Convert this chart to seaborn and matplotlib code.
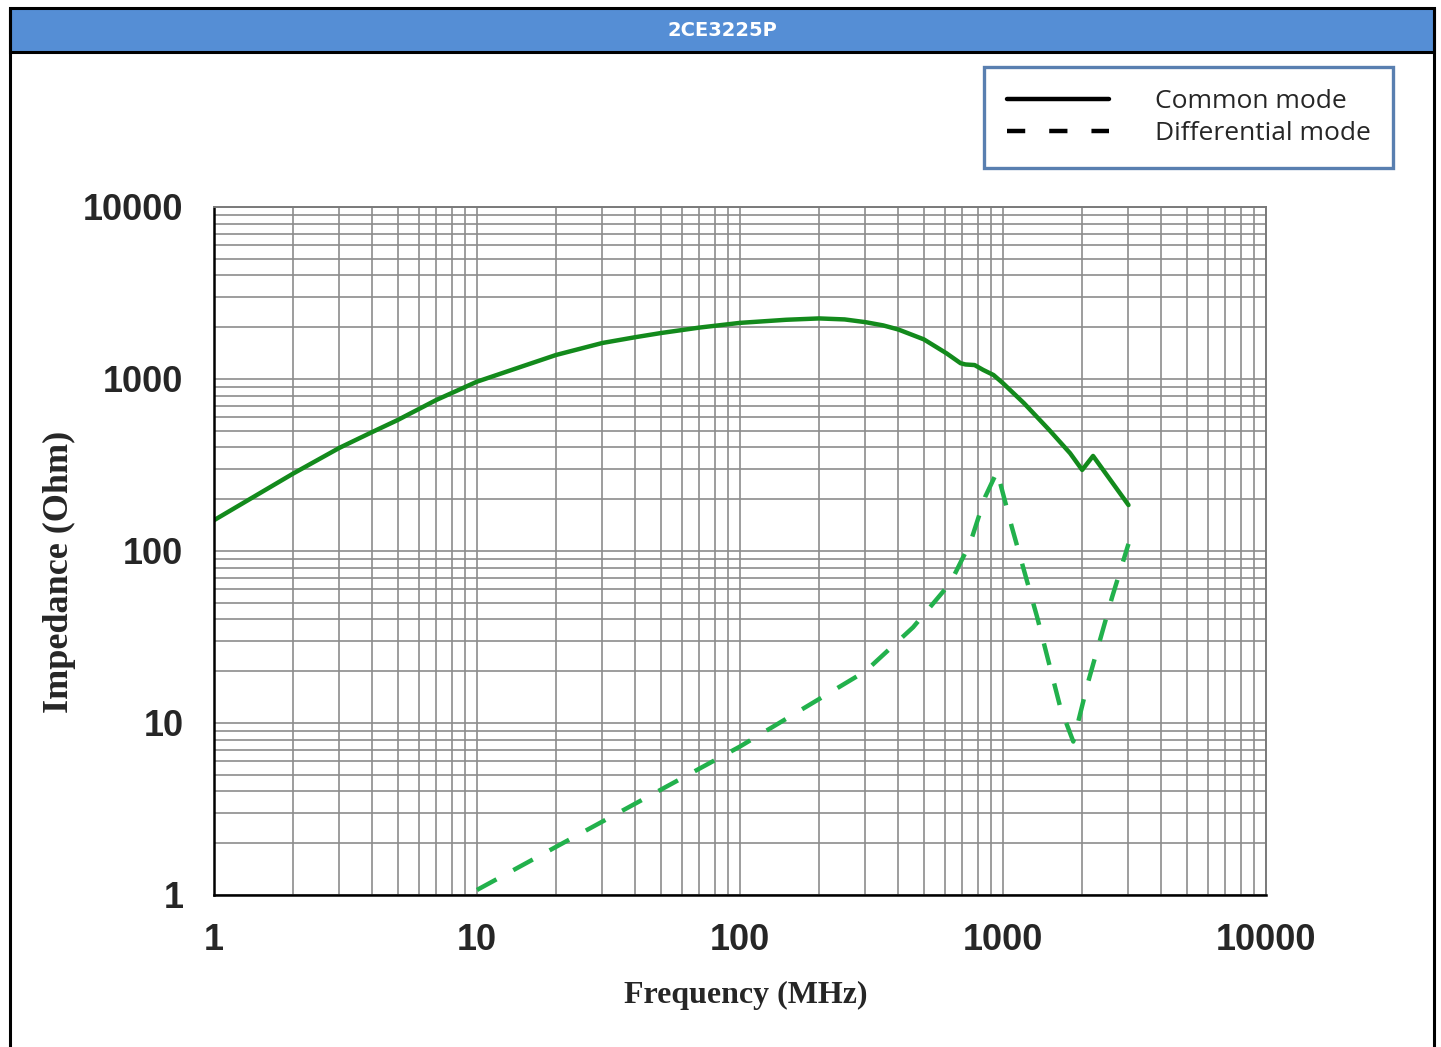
import numpy as np
import pandas as pd
import seaborn as sns
import matplotlib.pyplot as plt
from matplotlib.lines import Line2D
from matplotlib.patches import Rectangle
from matplotlib.ticker import LogLocator, NullFormatter

# Common mode impedance curve
cm_freq = [1, 2, 3, 4, 5, 7, 10, 15, 20, 30, 40, 50, 70, 100, 150, 200, 250, 300, 350,
           400, 500, 610, 690, 720, 780, 840, 920, 1000, 1200, 1500, 1800, 2000, 2200, 3000]
cm_imp = [151, 282, 398, 492, 578, 755, 965, 1190, 1380, 1620, 1750, 1850, 1990, 2120,
          2210, 2250, 2220, 2140, 2050, 1940, 1700, 1410, 1235, 1215, 1205, 1130, 1055,
          945, 725, 505, 370, 296, 357, 185]

# Differential mode impedance curve
dm_freq = [10, 100, 300, 455, 630, 750, 855, 950, 1080, 1350, 1650, 1850, 2100, 2600, 3000]
dm_imp = [1.07, 7.3, 20, 36, 65, 111, 206, 290, 138, 41, 12.4, 7.8, 17, 54, 110]

tick_vals = [1, 10, 100, 1000, 10000]
tick_labels = ['1', '10', '100', '1000', '10000']

cm = pd.DataFrame({'Frequency': cm_freq, 'Impedance': cm_imp})
dm = pd.DataFrame({'Frequency': dm_freq, 'Impedance': dm_imp})

sns.set_style('white')
plt.rcParams['font.family'] = ['Liberation Sans', 'DejaVu Sans']

W, H = 1441, 1047
fig = plt.figure(figsize=(W / 100, H / 100), dpi=100)
ax = fig.add_axes([214 / W, 1 - 895 / H, (1266 - 214) / W, (895 - 207) / H])

sns.lineplot(data=cm, x='Frequency', y='Impedance', ax=ax, sort=False,
             color='#138a1c', linewidth=3.2, estimator=None,
             solid_capstyle='round', solid_joinstyle='round')
sns.lineplot(data=dm, x='Frequency', y='Impedance', ax=ax, sort=False,
             color='#22b14c', linewidth=3.2, estimator=None,
             linestyle=(0, (5, 4.3)))

ax.set_xscale('log')
ax.set_yscale('log')
ax.set_xlim(1, 10000)
ax.set_ylim(1, 10000)

ax.set_xticks(tick_vals)
ax.set_xticklabels(tick_labels)
ax.set_yticks(tick_vals)
ax.set_yticklabels(tick_labels)
ax.xaxis.set_minor_locator(LogLocator(base=10, subs=np.arange(2, 10)))
ax.yaxis.set_minor_locator(LogLocator(base=10, subs=np.arange(2, 10)))
ax.xaxis.set_minor_formatter(NullFormatter())
ax.yaxis.set_minor_formatter(NullFormatter())

ax.grid(True, which='both', color='#8c8c8c', linewidth=1.2)
ax.set_axisbelow(True)
ax.tick_params(which='major', direction='in', length=6, width=1.8, color='black',
               labelsize=26, pad=20)
ax.tick_params(axis='y', which='major', pad=22)
ax.tick_params(which='minor', length=0)
for lab in ax.get_xticklabels() + ax.get_yticklabels():
    lab.set_fontweight('bold')

for side in ['left', 'bottom']:
    ax.spines[side].set_color('black')
    ax.spines[side].set_linewidth(1.8)
for side in ['top', 'right']:
    ax.spines[side].set_color('#7a7a7a')
    ax.spines[side].set_linewidth(1.4)

ax.set_xlabel('Frequency (MHz)', family='Liberation Serif', fontweight='bold', fontsize=23)
ax.set_ylabel('Impedance (Ohm)', family='Liberation Serif', fontweight='bold', fontsize=26)
ax.xaxis.set_label_coords((746 - 214) / 1052, (895 - 981) / 688)
ax.yaxis.set_label_coords((76 - 214) / 1052, (895 - 572) / 688)

# Header bar and outer frame
fig.add_artist(Rectangle((10 / W, 1 - 52 / H), (1434 - 10) / W, 44 / H,
                         transform=fig.transFigure, facecolor='#558ed5',
                         edgecolor='black', linewidth=2.2))
fig.add_artist(Line2D([10 / W, 10 / W], [0, 1 - 8 / H], transform=fig.transFigure,
                      color='black', linewidth=2.2))
fig.add_artist(Line2D([1434 / W, 1434 / W], [0, 1 - 8 / H], transform=fig.transFigure,
                      color='black', linewidth=2.2))
fig.text(722 / W, 1 - 31 / H, '2CE3225P', color='white', fontsize=14,
         fontweight='bold', family='DejaVu Sans', ha='center', va='center')

# Legend
handles = [Line2D([], [], color='black', linewidth=3.2),
           Line2D([], [], color='black', linewidth=3.2, linestyle=(0, (4.1, 5.4)))]
leg = fig.legend(handles, ['Common mode', 'Differential mode'],
                 loc='upper right', bbox_to_anchor=(1393 / W, 1 - 67 / H),
                 prop={'family': 'Open Sans', 'size': 19},
                 handlelength=3.86, handletextpad=1.75, borderpad=0.85,
                 labelspacing=0.25, fancybox=False, borderaxespad=0)
leg.get_frame().set_edgecolor('#2f5f9c')
leg.get_frame().set_linewidth(2.4)

fig.savefig('out.png', dpi=100)
